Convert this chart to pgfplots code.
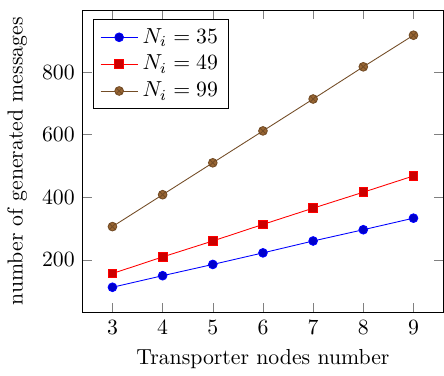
\documentclass[border=0pt]{standalone}
\usepackage{pgfplots}
\pgfplotsset{compat=1.18}
\begin{document}
\begin{tikzpicture}
\begin{axis}[
  scale only axis,
  width=166pt, height=139pt,
  xlabel={Transporter nodes number},
  ylabel={number of generated messages},
  xtick={3,4,5,6,7,8,9},
  ytick={200,400,600,800},
  legend pos=north west,
  legend cell align=left,
]
\addplot coordinates {(3,112) (4,149) (5,185) (6,222) (7,260) (8,296) (9,333)};
\addlegendentry{$N_i=35$}
\addplot coordinates {(3,156) (4,209) (5,260) (6,313) (7,365) (8,416) (9,468)};
\addlegendentry{$N_i=49$}
\addplot coordinates {(3,306) (4,408) (5,510) (6,612) (7,714) (8,817) (9,918)};
\addlegendentry{$N_i=99$}
\end{axis}
\path (current axis.north) ++(0pt,4.6pt);
\end{tikzpicture}
\end{document}
